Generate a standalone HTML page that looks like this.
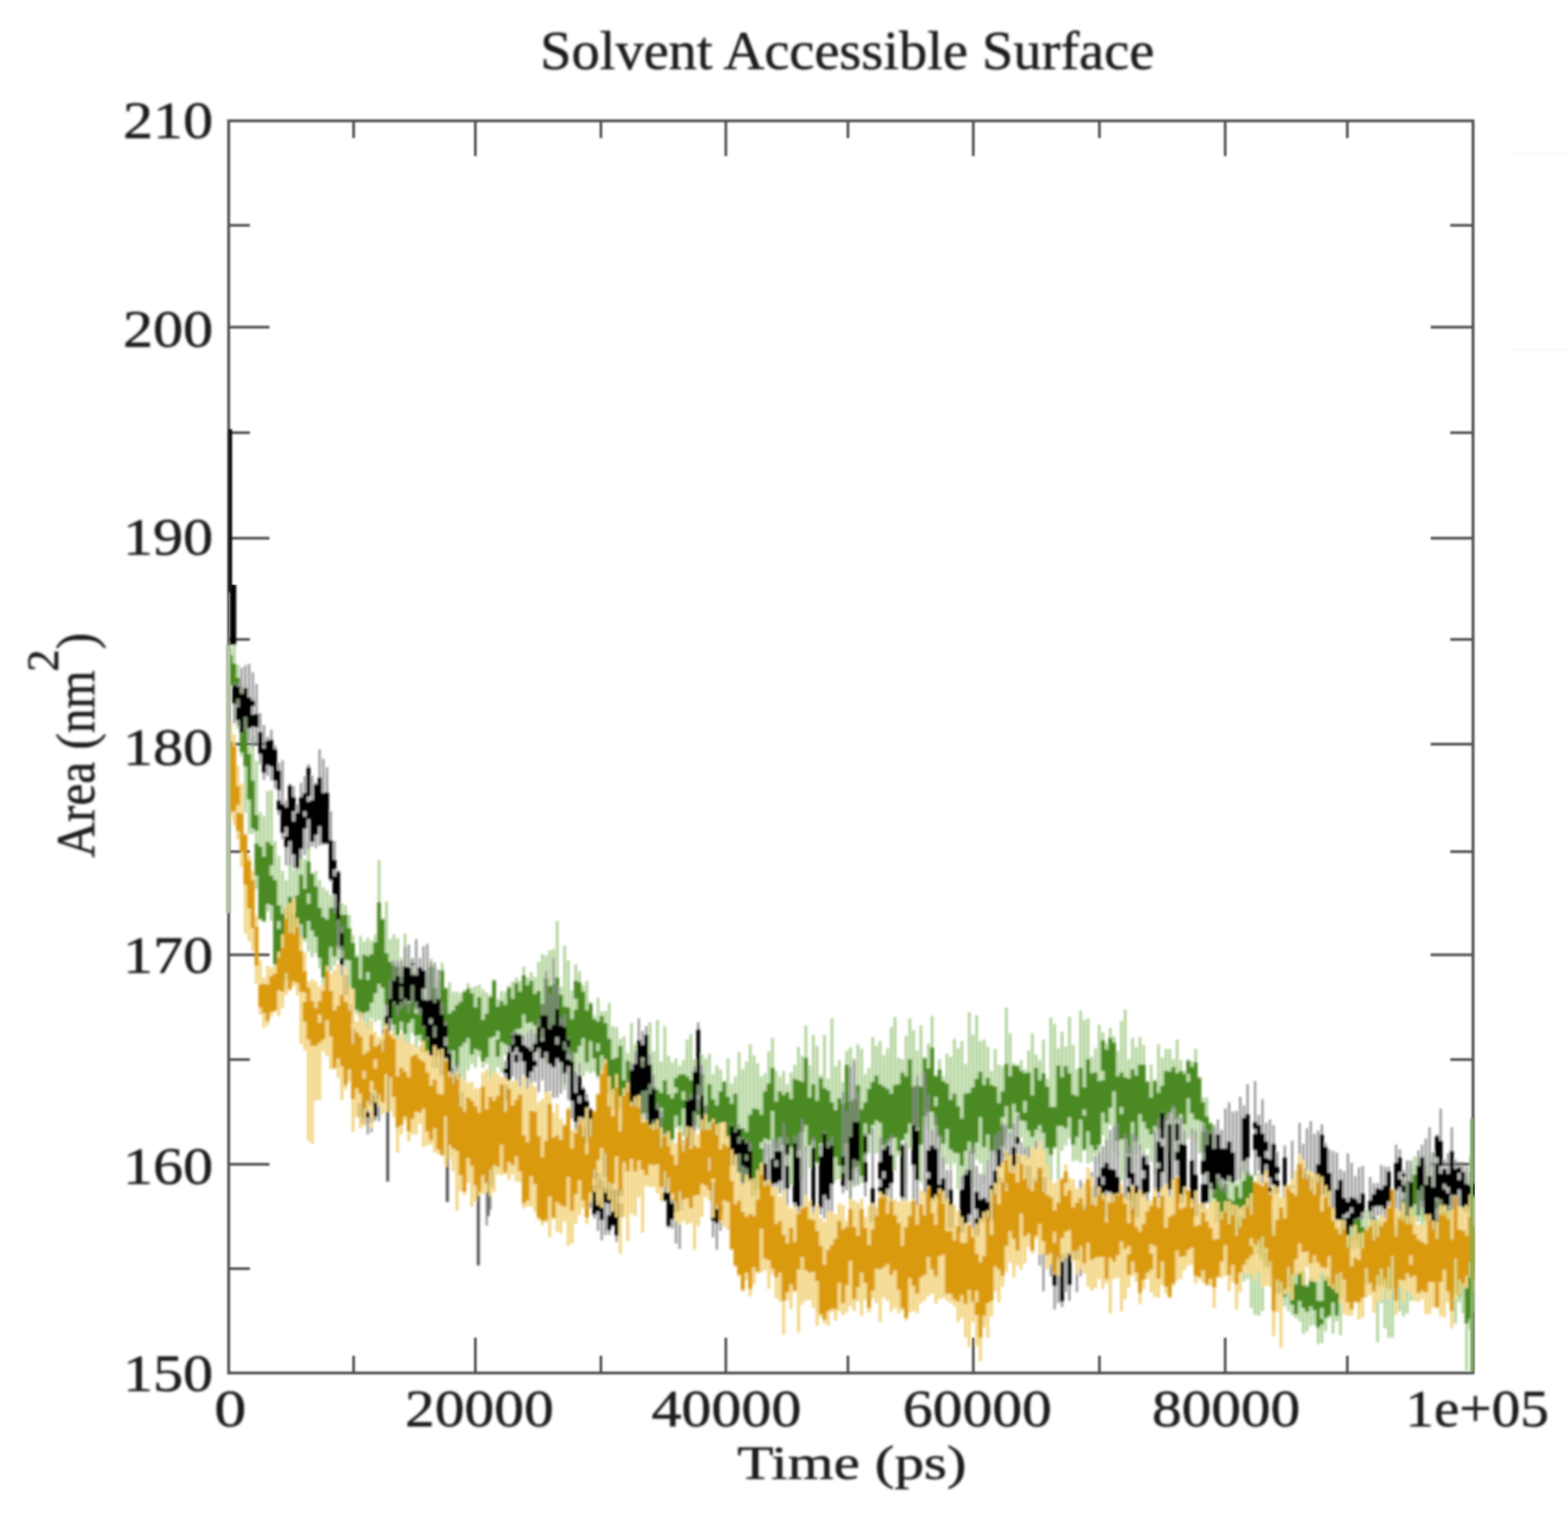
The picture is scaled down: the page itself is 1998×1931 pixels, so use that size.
<!DOCTYPE html>
<html><head><meta charset="utf-8"><style>
html,body{margin:0;padding:0;background:#fff;}
svg{display:block;}
text{font-family:"Liberation Serif","Times New Roman",serif;fill:#1a1a1a;stroke:#1a1a1a;stroke-width:0.6px;}
</style></head><body>
<svg width="1998" height="1931" viewBox="0 0 1998 1931">
<rect width="1998" height="1931" fill="#fff"/>
<defs><filter id="bd" x="0" y="0" width="1" height="1"><feGaussianBlur stdDeviation="1.8"/></filter><filter id="bt" x="-5%" y="-5%" width="110%" height="110%"><feGaussianBlur stdDeviation="1.6"/></filter><filter id="bf" x="-2%" y="-2%" width="104%" height="104%"><feGaussianBlur stdDeviation="1.0"/></filter></defs>
<g id="frame" filter="url(#bf)"><rect x="291.4" y="154.0" width="1585.6" height="1596.0" fill="none" stroke="#505050" stroke-width="3.6"/><line x1="291.4" y1="287.2" x2="318.4" y2="287.2" stroke="#505050" stroke-width="3.4"/><line x1="1877.0" y1="287.2" x2="1848.0" y2="287.2" stroke="#505050" stroke-width="3.4"/><line x1="291.4" y1="417.0" x2="343.4" y2="417.0" stroke="#505050" stroke-width="3.4"/><line x1="1877.0" y1="417.0" x2="1823.0" y2="417.0" stroke="#505050" stroke-width="3.4"/><line x1="291.4" y1="551.5" x2="318.4" y2="551.5" stroke="#505050" stroke-width="3.4"/><line x1="1877.0" y1="551.5" x2="1848.0" y2="551.5" stroke="#505050" stroke-width="3.4"/><line x1="291.4" y1="686.0" x2="343.4" y2="686.0" stroke="#505050" stroke-width="3.4"/><line x1="1877.0" y1="686.0" x2="1823.0" y2="686.0" stroke="#505050" stroke-width="3.4"/><line x1="291.4" y1="815.0" x2="318.4" y2="815.0" stroke="#505050" stroke-width="3.4"/><line x1="1877.0" y1="815.0" x2="1848.0" y2="815.0" stroke="#505050" stroke-width="3.4"/><line x1="291.4" y1="948.5" x2="343.4" y2="948.5" stroke="#505050" stroke-width="3.4"/><line x1="1877.0" y1="948.5" x2="1823.0" y2="948.5" stroke="#505050" stroke-width="3.4"/><line x1="291.4" y1="1085.5" x2="318.4" y2="1085.5" stroke="#505050" stroke-width="3.4"/><line x1="1877.0" y1="1085.5" x2="1848.0" y2="1085.5" stroke="#505050" stroke-width="3.4"/><line x1="291.4" y1="1217.0" x2="343.4" y2="1217.0" stroke="#505050" stroke-width="3.4"/><line x1="1877.0" y1="1217.0" x2="1823.0" y2="1217.0" stroke="#505050" stroke-width="3.4"/><line x1="291.4" y1="1350.5" x2="318.4" y2="1350.5" stroke="#505050" stroke-width="3.4"/><line x1="1877.0" y1="1350.5" x2="1848.0" y2="1350.5" stroke="#505050" stroke-width="3.4"/><line x1="291.4" y1="1484.0" x2="343.4" y2="1484.0" stroke="#505050" stroke-width="3.4"/><line x1="1877.0" y1="1484.0" x2="1823.0" y2="1484.0" stroke="#505050" stroke-width="3.4"/><line x1="291.4" y1="1617.0" x2="318.4" y2="1617.0" stroke="#505050" stroke-width="3.4"/><line x1="1877.0" y1="1617.0" x2="1848.0" y2="1617.0" stroke="#505050" stroke-width="3.4"/><line x1="450.6" y1="154.0" x2="450.6" y2="176.0" stroke="#505050" stroke-width="3.4"/><line x1="450.6" y1="1750.0" x2="450.6" y2="1728.0" stroke="#505050" stroke-width="3.4"/><line x1="605.7" y1="154.0" x2="605.7" y2="199.0" stroke="#505050" stroke-width="3.4"/><line x1="605.7" y1="1750.0" x2="605.7" y2="1705.0" stroke="#505050" stroke-width="3.4"/><line x1="765.7" y1="154.0" x2="765.7" y2="176.0" stroke="#505050" stroke-width="3.4"/><line x1="765.7" y1="1750.0" x2="765.7" y2="1728.0" stroke="#505050" stroke-width="3.4"/><line x1="924.9" y1="154.0" x2="924.9" y2="199.0" stroke="#505050" stroke-width="3.4"/><line x1="924.9" y1="1750.0" x2="924.9" y2="1705.0" stroke="#505050" stroke-width="3.4"/><line x1="1080.5" y1="154.0" x2="1080.5" y2="176.0" stroke="#505050" stroke-width="3.4"/><line x1="1080.5" y1="1750.0" x2="1080.5" y2="1728.0" stroke="#505050" stroke-width="3.4"/><line x1="1240.2" y1="154.0" x2="1240.2" y2="199.0" stroke="#505050" stroke-width="3.4"/><line x1="1240.2" y1="1750.0" x2="1240.2" y2="1705.0" stroke="#505050" stroke-width="3.4"/><line x1="1400.9" y1="154.0" x2="1400.9" y2="176.0" stroke="#505050" stroke-width="3.4"/><line x1="1400.9" y1="1750.0" x2="1400.9" y2="1728.0" stroke="#505050" stroke-width="3.4"/><line x1="1561.2" y1="154.0" x2="1561.2" y2="199.0" stroke="#505050" stroke-width="3.4"/><line x1="1561.2" y1="1750.0" x2="1561.2" y2="1705.0" stroke="#505050" stroke-width="3.4"/><line x1="1716.8" y1="154.0" x2="1716.8" y2="176.0" stroke="#505050" stroke-width="3.4"/><line x1="1716.8" y1="1750.0" x2="1716.8" y2="1728.0" stroke="#505050" stroke-width="3.4"/></g>
<g id="data" filter="url(#bd)"><path d="M293.76 826V876M298.5 822V900M303.22 847V929M307.95 874V964M312.69 909V1036M317.41 950V1063M322.14 939V1063M326.88 970V1133M331.6 1035V1173M336.33 1040V1176M341.06 1008V1162M345.79 1007V1174M350.52 1072V1232M355.25 1091V1235M359.99 1110V1263M364.71 1122V1259M369.44 1100V1238M374.17 1109V1233M378.9 1098V1208M383.63 1092V1203M388.37 1095V1200M393.09 1074V1213M397.82 1112V1220M402.56 1110V1215M407.28 1122V1234M412.01 1131V1265M416.75 1135V1265M421.48 1141V1237M426.2 1145V1231M430.94 1132V1224M435.66 1151V1225M440.39 1154V1260M445.12 1166V1267M449.86 1192V1286M454.58 1217V1292M459.31 1193V1312M464.04 1200V1303M468.77 1195V1315M473.5 1199V1298M478.24 1191V1302M482.97 1096V1300M487.69 1170V1311M492.42 1149V1321M497.15 1197V1306M501.88 1191V1339M506.62 1196V1327M511.35 1221V1313M516.08 1190V1340M520.81 1234V1331M525.53 1221V1317M530.26 1238V1336M535.0 1243V1327M539.73 1238V1344M544.46 1241V1353M549.18 1222V1333M553.91 1232V1335M558.64 1250V1352M563.38 1227V1344M568.11 1258V1363M572.84 1252V1358M577.57 1264V1375M582.3 1264V1370M587.02 1266V1373M591.75 1262V1378M596.49 1253V1364M601.22 1259V1356M605.94 1257V1361M610.67 1255V1347M615.4 1261V1361M620.13 1265V1356M624.87 1268V1372M629.6 1248V1369M634.33 1273V1360M639.06 1263V1367M643.79 1264V1345M648.51 1256V1350M653.25 1251V1335M657.98 1246V1334M662.7 1250V1352M667.43 1232V1325M672.16 1246V1317M676.89 1239V1347M681.62 1245V1330M686.36 1226V1340M691.09 1216V1336M695.82 1218V1354M700.55 1211V1335M705.28 1210V1332M710.0 1174V1334M714.74 1258V1373M719.47 1205V1389M724.19 1224V1361M728.92 1262V1373M733.65 1229V1382M738.38 1238V1364M743.12 1256V1372M747.85 1250V1366M752.58 1277V1368M757.31 1294V1366M762.04 1272V1375M766.77 1289V1388M771.5 1289V1385M776.23 1278V1410M780.96 1308V1415M785.68 1309V1410M790.41 1324V1425M795.14 1321V1449M799.88 1342V1426M804.61 1304V1448M809.34 1331V1461M814.07 1342V1435M818.8 1335V1441M823.52 1331V1428M828.25 1303V1447M832.99 1340V1463M837.72 1300V1452M842.45 1353V1463M847.18 1308V1451M851.9 1346V1469M856.63 1354V1461M861.37 1349V1438M866.1 1358V1451M870.83 1351V1448M875.56 1325V1441M880.29 1318V1440M885.01 1350V1443M889.75 1332V1439M894.48 1344V1437M899.21 1349V1455M903.94 1343V1445M908.67 1369V1455M913.39 1358V1469M918.12 1363V1455M922.86 1377V1468M927.59 1349V1457M932.32 1381V1468M937.05 1372V1473M941.78 1341V1503M946.5 1363V1528M951.24 1353V1517M955.97 1331V1528M960.7 1345V1529M965.43 1355V1550M970.16 1372V1501M974.88 1368V1474M979.62 1340V1484M984.35 1323V1451M989.08 1365V1507M993.81 1372V1495M998.54 1365V1491M1003.26 1382V1494M1008.0 1367V1510M1012.73 1357V1500M1017.46 1334V1508M1022.19 1346V1505M1026.91 1307V1466M1031.64 1358V1489M1036.38 1319V1469M1041.11 1333V1484M1045.84 1370V1463M1050.57 1319V1466M1055.3 1375V1491M1060.03 1298V1480M1064.76 1359V1505M1069.49 1351V1503M1074.22 1379V1508M1078.95 1339V1501M1083.68 1335V1548M1088.41 1354V1513M1093.14 1331V1494M1097.87 1337V1508M1102.6 1369V1507M1107.33 1361V1469M1112.06 1322V1436M1116.79 1333V1470M1121.52 1327V1468M1126.24 1345V1467M1130.97 1336V1485M1135.7 1309V1453M1140.43 1296V1492M1145.16 1348V1473M1149.89 1350V1455M1154.62 1320V1508M1159.36 1298V1464M1164.09 1313V1492M1168.82 1339V1496M1173.55 1307V1507M1178.28 1347V1434M1183.01 1330V1441M1187.74 1295V1471M1192.47 1370V1513M1197.2 1350V1469M1201.93 1372V1490M1206.66 1343V1484M1211.39 1347V1490M1216.12 1324V1483M1220.85 1336V1516M1225.58 1327V1509M1230.31 1356V1524M1235.04 1290V1506M1239.77 1319V1513M1244.5 1294V1478M1249.22 1327V1483M1253.95 1325V1507M1258.68 1334V1478M1263.41 1365V1487M1268.14 1337V1473M1272.88 1357V1491M1277.61 1359V1463M1282.34 1284V1450M1287.07 1317V1450M1291.8 1355V1483M1296.53 1357V1451M1301.26 1351V1450M1305.99 1363V1484M1310.72 1339V1487M1315.45 1317V1473M1320.18 1344V1484M1324.91 1351V1455M1329.64 1325V1496M1334.37 1375V1518M1339.1 1297V1517M1343.83 1305V1464M1348.56 1336V1503M1353.28 1315V1467M1358.01 1334V1460M1362.74 1296V1451M1367.47 1332V1480M1372.2 1363V1479M1376.93 1288V1482M1381.66 1300V1467M1386.39 1298V1483M1391.12 1347V1481M1395.86 1336V1472M1400.59 1306V1482M1405.32 1316V1447M1410.05 1330V1490M1414.78 1310V1434M1419.51 1321V1467M1424.24 1340V1476M1428.97 1301V1505M1433.7 1287V1494M1438.43 1350V1474M1443.16 1323V1491M1447.89 1335V1471M1452.62 1322V1465M1457.35 1332V1475M1462.08 1377V1464M1466.81 1357V1481M1471.54 1376V1497M1476.26 1331V1500M1480.99 1348V1444M1485.72 1337V1469M1490.45 1337V1470M1495.18 1350V1479M1499.91 1325V1474M1504.64 1351V1483M1509.38 1365V1463M1514.11 1350V1452M1518.84 1353V1448M1523.57 1337V1457M1528.3 1372V1470M1533.03 1399V1485M1537.76 1399V1512M1542.49 1430V1542M1547.22 1433V1548M1551.95 1464V1579M1556.68 1484V1608M1561.41 1488V1577M1566.14 1499V1617M1570.87 1479V1598M1575.6 1507V1604M1580.33 1487V1613M1585.06 1455V1633M1589.79 1479V1630M1594.51 1497V1667M1599.24 1518V1676M1603.97 1495V1677M1608.7 1532V1671M1613.43 1514V1627M1618.16 1514V1634M1622.89 1545V1688M1627.62 1519V1668M1632.36 1527V1650M1637.09 1567V1665M1641.82 1572V1671M1646.55 1581V1676M1651.28 1605V1680M1656.01 1610V1684M1660.74 1603V1700M1665.47 1637V1697M1670.2 1607V1690M1674.93 1628V1689M1679.66 1625V1713M1684.39 1621V1712M1689.12 1620V1697M1693.85 1589V1680M1698.58 1576V1700M1703.31 1576V1684M1708.04 1561V1702M1712.77 1550V1660M1717.49 1553V1637M1722.22 1549V1642M1726.95 1524V1610M1731.68 1539V1659M1736.41 1548V1643M1741.14 1542V1651M1745.88 1541V1631M1750.61 1532V1650M1755.34 1553V1711M1760.07 1556V1661M1764.8 1558V1693M1769.53 1554V1705M1774.26 1561V1705M1778.99 1549V1674M1783.72 1523V1671M1788.45 1508V1678M1793.18 1480V1674M1797.91 1489V1658M1802.64 1474V1623M1807.37 1477V1557M1812.1 1472V1632M1816.83 1485V1612M1821.56 1473V1636M1826.29 1468V1580M1831.02 1509V1619M1835.74 1507V1613M1840.47 1496V1627M1845.2 1532V1625M1849.93 1498V1660M1854.66 1528V1687M1859.39 1527V1660M1864.12 1496V1674M1868.86 1499V1747M1873.59 1474V1695M1878.32 1558V1673" stroke="#aed296" stroke-width="3.4056" fill="none"/><path d="M293.76 835V873M298.5 846V877M303.22 864V900M307.95 906V959M312.69 914V977M317.41 961V1019M322.14 995V1056M326.88 1039V1059M326.88 1075V1116M331.6 1079V1171M336.33 1092V1174M341.06 1073V1152M345.79 1077V1103M345.79 1116V1154M350.52 1122V1229M355.25 1154V1174M355.25 1184V1231M359.99 1165V1254M364.71 1157V1249M369.44 1143V1236M374.17 1163V1229M378.9 1141V1206M383.63 1115V1178M388.37 1133V1196M393.09 1098V1139M393.09 1152V1174M397.82 1114V1186M402.56 1130V1194M407.28 1157V1221M412.01 1169V1246M416.75 1172V1241M421.48 1157V1207M426.2 1157V1219M430.94 1166V1205M435.66 1166V1211M440.39 1166V1223M445.12 1183V1224M449.86 1202V1260M454.58 1220V1287M459.31 1248V1297M464.04 1217V1291M468.77 1219V1239M468.77 1249V1289M473.5 1216V1278M478.24 1201V1266M482.97 1150V1254M487.69 1172V1259M492.42 1215V1281M497.15 1226V1299M501.88 1231V1306M506.62 1232V1319M511.35 1245V1302M516.08 1238V1318M520.81 1243V1266M520.81 1279V1304M525.53 1241V1299M530.26 1250V1284M530.26 1292V1320M535.0 1270V1319M539.73 1291V1342M544.46 1293V1341M549.18 1232V1299M553.91 1259V1332M558.64 1272V1308M558.64 1315V1341M563.38 1237V1306M568.11 1260V1317M572.84 1292V1351M577.57 1288V1339M582.3 1281V1360M587.02 1277V1334M591.75 1264V1329M596.49 1260V1323M601.22 1266V1344M605.94 1284V1337M610.67 1271V1339M615.4 1300V1353M620.13 1292V1348M624.87 1271V1323M629.6 1250V1321M634.33 1283V1314M634.33 1325V1347M639.06 1276V1328M643.79 1281V1331M648.51 1259V1333M653.25 1273V1333M657.98 1253V1312M662.7 1264V1311M667.43 1243V1293M672.16 1256V1304M676.89 1250V1303M681.62 1267V1307M686.36 1263V1316M691.09 1280V1323M695.82 1247V1308M700.55 1257V1328M705.28 1255V1315M710.0 1246V1306M714.74 1268V1346M719.47 1283V1369M724.19 1284V1344M728.92 1299V1357M733.65 1250V1273M733.65 1287V1342M738.38 1252V1333M743.12 1264V1323M747.85 1288V1354M752.58 1279V1327M757.31 1299V1349M762.04 1302V1330M762.04 1340V1371M766.77 1295V1345M771.5 1304V1358M776.23 1324V1394M780.96 1350V1413M785.68 1348V1408M790.41 1333V1413M795.14 1377V1445M799.88 1352V1415M804.61 1371V1445M809.34 1372V1446M814.07 1379V1433M818.8 1352V1419M823.52 1365V1419M828.25 1382V1437M832.99 1385V1443M837.72 1389V1449M842.45 1393V1412M842.45 1425V1454M847.18 1377V1445M851.9 1395V1461M856.63 1400V1452M861.37 1374V1386M861.37 1393V1422M866.1 1370V1435M870.83 1369V1391M870.83 1402V1413M875.56 1372V1414M880.29 1377V1430M885.01 1383V1403M885.01 1414V1435M889.75 1372V1395M889.75 1402V1421M894.48 1369V1413M899.21 1410V1449M903.94 1382V1430M908.67 1401V1450M913.39 1409V1458M918.12 1391V1431M922.86 1379V1431M927.59 1398V1451M932.32 1407V1466M937.05 1394V1453M941.78 1440V1494M946.5 1438V1507M951.24 1443V1500M955.97 1421V1491M960.7 1413V1525M965.43 1414V1516M970.16 1421V1456M970.16 1464V1496M974.88 1391V1451M979.62 1381V1453M984.35 1361V1416M989.08 1404V1465M993.81 1391V1450M998.54 1396V1459M1003.26 1392V1473M1008.0 1401V1462M1012.73 1375V1462M1017.46 1377V1466M1022.19 1379V1443M1026.91 1348V1434M1031.64 1399V1460M1036.38 1382V1453M1041.11 1403V1481M1045.84 1374V1457M1050.57 1387V1453M1055.3 1390V1467M1060.03 1405V1473M1064.76 1415V1475M1069.49 1400V1486M1074.22 1407V1503M1078.95 1357V1457M1083.68 1404V1490M1088.41 1401V1489M1093.14 1383V1486M1097.87 1414V1499M1102.6 1405V1432M1102.6 1447V1472M1107.33 1388V1446M1112.06 1379V1434M1116.79 1371V1428M1121.52 1382V1431M1126.24 1385V1460M1130.97 1388V1457M1135.7 1394V1451M1140.43 1383V1450M1145.16 1382V1467M1149.89 1367V1453M1154.62 1372V1445M1159.36 1350V1432M1164.09 1385V1451M1168.82 1383V1437M1173.55 1385V1459M1178.28 1349V1423M1183.01 1362V1417M1187.74 1335V1417M1192.47 1372V1398M1192.47 1410V1434M1197.2 1363V1449M1201.93 1378V1458M1206.66 1381V1439M1211.39 1402V1465M1216.12 1394V1469M1220.85 1410V1470M1225.58 1426V1486M1230.31 1394V1467M1235.04 1393V1455M1239.77 1386V1470M1244.5 1375V1456M1249.22 1366V1424M1253.95 1383V1462M1258.68 1374V1446M1263.41 1383V1467M1268.14 1385V1467M1272.88 1406V1471M1277.61 1391V1424M1277.61 1435V1461M1282.34 1356V1410M1287.07 1372V1439M1291.8 1358V1407M1296.53 1359V1418M1301.26 1365V1428M1305.99 1368V1403M1305.99 1418V1429M1310.72 1367V1441M1315.45 1396V1449M1320.18 1361V1440M1324.91 1377V1434M1329.64 1368V1444M1334.37 1385V1463M1339.1 1411V1472M1343.83 1411V1462M1348.56 1358V1435M1353.28 1373V1435M1358.01 1359V1438M1362.74 1368V1424M1367.47 1395V1459M1372.2 1397V1449M1376.93 1361V1427M1381.66 1386V1414M1381.66 1422V1465M1386.39 1350V1442M1391.12 1368V1460M1395.86 1367V1466M1400.59 1378V1459M1405.32 1326V1365M1405.32 1377V1418M1410.05 1338V1431M1414.78 1323V1412M1419.51 1329V1391M1424.24 1372V1454M1428.97 1367V1411M1428.97 1420V1452M1433.7 1373V1451M1438.43 1375V1471M1443.16 1363V1430M1447.89 1371V1455M1452.62 1357V1420M1457.35 1357V1430M1462.08 1379V1439M1466.81 1399V1446M1471.54 1378V1435M1476.26 1393V1439M1480.99 1384V1438M1485.72 1365V1428M1490.45 1366V1418M1495.18 1360V1412M1499.91 1368V1427M1504.64 1365V1420M1509.38 1369V1433M1514.11 1352V1369M1514.11 1379V1400M1518.84 1360V1419M1523.57 1354V1427M1528.3 1374V1428M1533.03 1405V1431M1533.03 1442V1469M1537.76 1423V1482M1542.49 1432V1482M1547.22 1480V1527M1551.95 1502V1558M1556.68 1514V1576M1561.41 1509V1575M1566.14 1528V1580M1570.87 1531V1580M1575.6 1512V1587M1580.33 1527V1540M1580.33 1551V1588M1585.06 1505V1588M1589.79 1494V1577M1594.51 1499V1579M1599.24 1527V1587M1603.97 1516V1560M1603.97 1574V1598M1608.7 1534V1605M1613.43 1558V1588M1613.43 1596V1615M1618.16 1558V1615M1622.89 1568V1599M1622.89 1614V1626M1627.62 1582V1649M1632.36 1580V1648M1637.09 1594V1653M1641.82 1576V1641M1646.55 1609V1663M1651.28 1637V1675M1656.01 1621V1658M1660.74 1620V1667M1665.47 1640V1672M1670.2 1629V1665M1674.93 1634V1670M1679.66 1658V1692M1684.39 1658V1667M1684.39 1681V1688M1689.12 1626V1680M1693.85 1628V1677M1698.58 1598V1660M1703.31 1611V1677M1708.04 1603V1655M1712.77 1552V1595M1717.49 1558V1616M1722.22 1551V1564M1722.22 1576V1592M1726.95 1533V1580M1731.68 1542V1590M1736.41 1564V1609M1741.14 1578V1638M1745.88 1570V1621M1750.61 1551V1625M1755.34 1558V1639M1760.07 1583V1637M1764.8 1588V1640M1769.53 1592V1644M1774.26 1567V1643M1778.99 1564V1642M1783.72 1550V1607M1788.45 1528V1584M1793.18 1505V1564M1797.91 1506V1560M1802.64 1497V1535M1807.37 1503V1549M1812.1 1483V1530M1816.83 1510V1556M1821.56 1512V1563M1826.29 1517V1568M1831.02 1531V1540M1831.02 1554V1584M1835.74 1513V1587M1840.47 1544V1612M1845.2 1539V1590M1849.93 1577V1653M1854.66 1579V1648M1859.39 1583V1652M1864.12 1568V1633M1868.86 1595V1687M1873.59 1600V1681M1878.32 1562V1644" stroke="#4b8a22" stroke-width="4.930000000000001" fill="none"/><path d="M297 745V822" stroke="#000" stroke-width="8"/><path d="M494 1300V1506M570 1380V1532M609.5 1440V1613M622 1470V1550" stroke="#4a4a4a" stroke-width="3.6"/><path d="M298.5 871V922M303.22 870V925M307.95 851V936M312.69 848V931M317.41 846V946M322.14 857V952M326.88 872V949M331.6 909V974M336.33 924V994M341.06 939V989M345.79 930V995M350.52 950V1005M355.25 972V1039M359.99 969V1070M364.71 1020V1103M369.44 999V1103M374.17 1002V1107M378.9 1025V1109M383.63 998V1094M388.37 989V1090M393.09 974V1082M397.82 989V1079M402.56 997V1081M407.28 955V1078M412.01 967V1077M416.75 978V1077M421.48 1034V1124M426.2 1072V1163M430.94 1109V1209M435.66 1181V1243M440.39 1241V1273M445.12 1261V1310M449.86 1297V1348M454.58 1316V1373M459.31 1347V1431M464.04 1357V1435M468.77 1357V1446M473.5 1366V1443M478.24 1377V1428M482.97 1343V1429M487.69 1312V1414M492.42 1280V1355M497.15 1250V1314M501.88 1224V1279M506.62 1225V1294M511.35 1225V1286M516.08 1207V1281M520.81 1204V1291M525.53 1222V1277M530.26 1197V1287M535.0 1221V1295M539.73 1206V1310M544.46 1203V1325M549.18 1226V1354M553.91 1227V1366M558.64 1236V1357M563.38 1278V1397M568.11 1302V1451M572.84 1338V1420M577.57 1361V1482M582.3 1356V1433M587.02 1374V1435M591.75 1387V1448M596.49 1406V1459M601.22 1410V1497M605.94 1424V1505M610.67 1416V1523M615.4 1430V1521M620.13 1466V1562M624.87 1451V1542M629.6 1437V1516M634.33 1404V1492M639.06 1392V1457M643.79 1352V1426M648.51 1333V1408M653.25 1315V1372M657.98 1314V1391M662.7 1317V1385M667.43 1320V1370M672.16 1316V1395M676.89 1312V1390M681.62 1317V1379M686.36 1299V1392M691.09 1281V1377M695.82 1238V1395M700.55 1267V1391M705.28 1221V1399M710.0 1256V1399M714.74 1297V1394M719.47 1293V1382M724.19 1323V1402M728.92 1340V1426M733.65 1366V1460M738.38 1355V1479M743.12 1385V1494M747.85 1394V1512M752.58 1412V1540M757.31 1449V1553M762.04 1472V1569M766.77 1479V1581M771.5 1451V1574M776.23 1485V1574M780.96 1483V1564M785.68 1482V1583M790.41 1484V1554M795.14 1432V1526M799.88 1376V1490M804.61 1355V1460M809.34 1340V1451M814.07 1298V1414M818.8 1314V1418M823.52 1308V1437M828.25 1344V1454M832.99 1370V1469M837.72 1405V1483M842.45 1416V1502M847.18 1442V1532M851.9 1453V1565M856.63 1483V1566M861.37 1485V1585M866.1 1474V1592M870.83 1454V1551M875.56 1401V1513M880.29 1394V1476M885.01 1359V1449M889.75 1303V1415M894.48 1357V1453M899.21 1408V1500M903.94 1449V1530M908.67 1485V1577M913.39 1499V1593M918.12 1493V1569M922.86 1483V1543M927.59 1469V1567M932.32 1432V1521M937.05 1440V1503M941.78 1433V1548M946.5 1450V1518M951.24 1452V1503M955.97 1456V1528M974.88 1457V1538M979.62 1458V1551M984.35 1451V1515M989.08 1454V1519M993.81 1449V1521M998.54 1431V1539M1003.26 1449V1546M1012.73 1448V1545M1017.46 1445V1548M1022.19 1426V1553M1026.91 1461V1553M1036.38 1449V1556M1045.84 1460V1548M1050.57 1442V1553M1055.3 1455V1548M1060.03 1449V1547M1074.22 1392V1521M1078.95 1416V1517M1083.68 1360V1529M1088.41 1350V1510M1093.14 1393V1511M1102.6 1444V1525M1112.06 1437V1580M1121.52 1450V1552M1126.24 1461V1544M1130.97 1452V1554M1135.7 1446V1534M1149.89 1457V1531M1154.62 1456V1556M1164.09 1385V1559M1168.82 1371V1568M1178.28 1366V1575M1183.01 1395V1566M1187.74 1440V1558M1192.47 1422V1555M1197.2 1446V1559M1201.93 1475V1552M1206.66 1491V1567M1211.39 1491V1568M1225.58 1499V1581M1230.31 1491V1570M1235.04 1467V1567M1239.77 1460V1579M1244.5 1486V1584M1249.22 1496V1574M1253.95 1497V1570M1258.68 1478V1574M1263.41 1465V1560M1268.14 1446V1551M1272.88 1442V1522M1277.61 1431V1508M1282.34 1433V1530M1287.07 1444V1532M1291.8 1432V1524M1296.53 1422V1524M1301.26 1456V1519M1305.99 1463V1518M1310.72 1461V1525M1320.18 1454V1573M1324.91 1471V1613M1329.64 1485V1646M1339.1 1541V1627M1343.83 1569V1669M1348.56 1553V1661M1353.28 1566V1666M1358.01 1574V1647M1362.74 1563V1658M1372.2 1557V1647M1376.93 1504V1627M1381.66 1524V1598M1386.39 1518V1605M1391.12 1494V1576M1395.86 1473V1580M1400.59 1469V1564M1405.32 1461V1560M1410.05 1453V1572M1414.78 1440V1561M1419.51 1435V1559M1424.24 1432V1555M1433.7 1445V1574M1438.43 1461V1539M1443.16 1445V1553M1447.89 1449V1558M1452.62 1458V1542M1457.35 1470V1542M1462.08 1472V1539M1471.54 1441V1541M1476.26 1425V1527M1480.99 1416V1529M1485.72 1422V1522M1490.45 1418V1525M1495.18 1409V1516M1499.91 1423V1521M1504.64 1425V1541M1509.38 1441V1536M1518.84 1438V1538M1523.57 1441V1555M1533.03 1433V1550M1537.76 1439V1534M1542.49 1442V1516M1547.22 1436V1522M1551.95 1427V1510M1556.68 1440V1518M1561.41 1413V1521M1566.14 1405V1506M1570.87 1417V1509M1575.6 1416V1505M1580.33 1398V1503M1585.06 1409V1494M1589.79 1382V1499M1599.24 1378V1499M1603.97 1421V1492M1608.7 1401V1508M1613.43 1431V1509M1618.16 1427V1532M1622.89 1434V1517M1627.62 1468V1526M1637.09 1460V1534M1646.55 1454V1545M1656.01 1431V1533M1660.74 1458V1551M1665.47 1438V1548M1670.2 1429V1553M1674.93 1445V1537M1679.66 1441V1569M1684.39 1433V1542M1689.12 1457V1548M1693.85 1465V1561M1698.58 1467V1585M1703.31 1469V1562M1708.04 1490V1563M1712.77 1493V1577M1717.49 1470V1578M1722.22 1482V1564M1726.95 1499V1556M1731.68 1488V1554M1736.41 1486V1554M1745.88 1500V1554M1750.61 1508V1558M1755.34 1508V1550M1760.07 1485V1556M1764.8 1487V1553M1769.53 1487V1542M1778.99 1459V1546M1783.72 1465V1544M1788.45 1491V1542M1793.18 1479V1550M1797.91 1479V1541M1807.37 1466V1546M1812.1 1459V1539M1816.83 1451V1554M1821.56 1437V1562M1826.29 1469V1596M1831.02 1446V1566M1835.74 1413V1561M1840.47 1478V1558M1845.2 1470V1549M1849.93 1437V1542M1854.66 1478V1542M1859.39 1481V1540M1864.12 1481V1544M1868.86 1487V1555M1873.59 1494V1546M1878.32 1487V1540" stroke="#8a8a8a" stroke-width="2.6015000000000006" fill="none"/><path d="M298.5 873V897M303.22 875V891M303.22 901V918M307.95 884V934M312.69 877V914M317.41 889V928M322.14 893V900M322.14 911V926M326.88 910V927M331.6 933V961M336.33 954V985M341.06 944V975M345.79 943V977M350.52 955V995M355.25 982V1007M355.25 1020V1033M359.99 1025V1062M364.71 1029V1054M364.71 1066V1080M369.44 1001V1072M374.17 1016V1034M374.17 1047V1089M378.9 1036V1106M383.63 1016V1082M388.37 1011V1034M388.37 1041V1056M393.09 978V1015M393.09 1022V1044M397.82 1020V1073M402.56 1000V1064M407.28 991V1053M412.01 1011V1075M416.75 1010V1075M421.48 1071V1121M426.2 1096V1108M426.2 1117V1140M430.94 1111V1172M435.66 1189V1206M435.66 1221V1230M440.39 1243V1268M445.12 1280V1304M449.86 1311V1341M454.58 1345V1369M459.31 1381V1393M459.31 1406V1424M464.04 1386V1432M468.77 1400V1405M468.77 1418V1424M473.5 1392V1409M473.5 1424V1431M478.24 1396V1423M482.97 1382V1401M487.69 1326V1353M492.42 1295V1308M492.42 1322V1326M497.15 1273V1298M501.88 1250V1277M506.62 1244V1281M511.35 1253V1258M511.35 1273V1277M516.08 1232V1273M520.81 1233V1276M525.53 1228V1230M525.53 1243V1256M530.26 1243V1277M535.0 1233V1285M539.73 1237V1260M539.73 1274V1308M544.46 1275V1322M549.18 1274V1298M549.18 1305V1345M553.91 1278V1308M553.91 1322V1361M558.64 1274V1346M563.38 1293V1371M568.11 1307V1322M568.11 1333V1348M572.84 1343V1398M577.57 1372V1397M582.3 1368V1387M582.3 1397V1406M587.02 1391V1426M591.75 1419V1430M591.75 1439V1444M596.49 1431V1437M596.49 1446V1455M601.22 1419V1450M605.94 1434V1445M605.94 1458V1470M610.67 1427V1478M615.4 1441V1460M615.4 1466V1493M620.13 1469V1509M624.87 1461V1513M629.6 1439V1450M629.6 1462V1471M634.33 1406V1448M639.06 1400V1435M643.79 1362V1368M643.79 1383V1403M648.51 1341V1377M653.25 1321V1323M653.25 1331V1341M657.98 1318V1335M657.98 1344V1354M662.7 1319V1342M667.43 1332V1353M672.16 1335V1374M676.89 1339V1366M681.62 1330V1341M681.62 1352V1359M686.36 1309V1336M691.09 1294V1311M691.09 1327V1349M695.82 1294V1341M700.55 1311V1356M705.28 1306V1360M710.0 1286V1322M710.0 1331V1349M714.74 1307V1354M719.47 1309V1328M719.47 1338V1367M724.19 1325V1335M724.19 1350V1359M728.92 1353V1403M733.65 1393V1430M738.38 1371V1397M738.38 1406V1446M743.12 1388V1424M743.12 1437V1458M747.85 1403V1457M752.58 1414V1478M757.31 1484V1502M757.31 1511V1548M762.04 1495V1516M762.04 1530V1544M766.77 1504V1555M771.5 1453V1501M771.5 1514V1533M776.23 1495V1534M776.23 1549V1568M780.96 1516V1562M785.68 1516V1575M790.41 1509V1524M790.41 1534V1552M795.14 1434V1477M799.88 1385V1452M804.61 1364V1403M804.61 1419V1435M809.34 1356V1439M814.07 1326V1397M818.8 1332V1348M818.8 1360V1391M823.52 1319V1390M828.25 1357V1382M828.25 1394V1433M832.99 1388V1428M837.72 1414V1470M842.45 1450V1497M847.18 1490V1513M847.18 1520V1530M851.9 1496V1563M856.63 1516V1521M856.63 1534V1554M861.37 1487V1545M866.1 1482V1543M870.83 1460V1478M870.83 1491V1521M875.56 1403V1481M880.29 1401V1461M885.01 1366V1417M889.75 1312V1383M894.48 1396V1445M899.21 1450V1470M899.21 1480V1486M903.94 1468V1502M908.67 1507V1556M913.39 1512V1525M913.39 1536V1559M918.12 1504V1522M918.12 1537V1547M922.86 1487V1530M927.59 1473V1501M932.32 1435V1486M937.05 1443V1484M941.78 1439V1449M941.78 1457V1471M946.5 1452V1486M951.24 1457V1472M951.24 1479V1489M955.97 1467V1507M974.88 1483V1523M984.35 1477V1509M989.08 1467V1479M989.08 1487V1508M993.81 1467V1505M1003.26 1458V1471M1003.26 1486V1515M1012.73 1457V1533M1017.46 1475V1538M1036.38 1463V1538M1045.84 1474V1539M1050.57 1445V1523M1055.3 1463V1529M1060.03 1460V1509M1074.22 1474V1486M1074.22 1495V1512M1083.68 1449V1505M1088.41 1430V1478M1093.14 1430V1480M1102.6 1448V1469M1102.6 1481V1507M1112.06 1514V1558M1121.52 1481V1503M1121.52 1513V1520M1126.24 1465V1493M1126.24 1502V1534M1130.97 1460V1515M1135.7 1472V1508M1149.89 1460V1526M1164.09 1434V1485M1168.82 1441V1504M1183.01 1466V1494M1183.01 1502V1561M1187.74 1460V1531M1192.47 1464V1528M1197.2 1510V1525M1197.2 1537V1551M1201.93 1502V1532M1211.39 1516V1566M1225.58 1516V1571M1230.31 1497V1559M1235.04 1491V1548M1244.5 1519V1541M1244.5 1553V1575M1249.22 1529V1558M1253.95 1527V1554M1258.68 1532V1561M1263.41 1511V1556M1268.14 1492V1524M1268.14 1534V1549M1272.88 1465V1488M1272.88 1501V1509M1282.34 1468V1476M1282.34 1491V1516M1291.8 1462V1493M1296.53 1449V1458M1296.53 1473V1483M1310.72 1486V1516M1320.18 1502V1549M1324.91 1488V1530M1329.64 1501V1546M1343.83 1593V1639M1348.56 1563V1606M1353.28 1598V1659M1362.74 1596V1638M1372.2 1560V1606M1376.93 1539V1589M1381.66 1537V1586M1386.39 1520V1555M1391.12 1513V1542M1400.59 1500V1553M1405.32 1488V1500M1405.32 1510V1536M1410.05 1482V1518M1410.05 1532V1552M1414.78 1490V1519M1414.78 1534V1557M1419.51 1491V1555M1424.24 1500V1530M1424.24 1539V1550M1438.43 1474V1502M1438.43 1512V1530M1443.16 1495V1510M1443.16 1516V1548M1447.89 1511V1552M1457.35 1474V1492M1457.35 1502V1526M1462.08 1484V1520M1476.26 1455V1482M1476.26 1489V1519M1480.99 1418V1451M1480.99 1461V1494M1490.45 1433V1516M1499.91 1432V1454M1499.91 1468V1479M1504.64 1458V1533M1509.38 1459V1523M1518.84 1479V1534M1523.57 1497V1550M1533.03 1479V1497M1533.03 1509V1541M1537.76 1459V1494M1537.76 1509V1532M1542.49 1445V1508M1547.22 1464V1516M1551.95 1446V1497M1556.68 1464V1502M1561.41 1464V1505M1566.14 1455V1499M1570.87 1469V1507M1585.06 1425V1480M1589.79 1420V1476M1599.24 1430V1439M1599.24 1445V1466M1603.97 1434V1475M1608.7 1445V1497M1613.43 1455V1467M1613.43 1476V1484M1618.16 1478V1501M1618.16 1514V1528M1622.89 1458V1510M1627.62 1487V1496M1627.62 1504V1522M1637.09 1475V1526M1646.55 1511V1514M1646.55 1529V1543M1656.01 1482V1523M1660.74 1489V1544M1665.47 1497V1519M1665.47 1533V1546M1670.2 1500V1524M1670.2 1537V1546M1679.66 1484V1561M1684.39 1446V1524M1689.12 1462V1522M1693.85 1495V1555M1703.31 1516V1554M1708.04 1504V1555M1712.77 1527V1548M1712.77 1558V1573M1717.49 1532V1545M1717.49 1552V1576M1722.22 1526V1539M1722.22 1546V1562M1726.95 1528V1554M1731.68 1533V1552M1736.41 1521V1545M1745.88 1530V1544M1750.61 1522V1538M1755.34 1515V1537M1760.07 1516V1537M1764.8 1511V1541M1769.53 1493V1531M1778.99 1482V1517M1783.72 1475V1494M1783.72 1503V1513M1788.45 1496V1500M1788.45 1511V1520M1797.91 1507V1538M1807.37 1486V1517M1812.1 1475V1512M1816.83 1510V1550M1821.56 1499V1560M1826.29 1513V1591M1831.02 1448V1475M1831.02 1484V1527M1835.74 1454V1486M1835.74 1496V1529M1840.47 1490V1509M1840.47 1516V1539M1845.2 1496V1513M1845.2 1521V1537M1849.93 1467V1523M1854.66 1490V1540M1859.39 1488V1495M1859.39 1504V1516M1864.12 1494V1538M1868.86 1509V1546M1873.59 1511V1539M1878.32 1508V1531" stroke="#060606" stroke-width="4.930000000000001" fill="none"/><path d="M293.76 920V1043M298.5 936V1052M303.22 976V1070M307.95 999V1105M312.69 1062V1190M317.41 1090V1200M322.14 1110V1212M326.88 1167V1254M331.6 1223V1293M336.33 1246V1310M341.06 1231V1307M345.79 1233V1296M350.52 1231V1290M355.25 1213V1295M359.99 1191V1285M364.71 1155V1268M369.44 1151V1263M374.17 1146V1257M378.9 1170V1269M383.63 1194V1331M388.37 1214V1339M393.09 1251V1454M397.82 1248V1458M402.56 1251V1403M407.28 1258V1402M412.01 1255V1340M416.75 1231V1346M421.48 1241V1363M426.2 1236V1363M430.94 1229V1374M435.66 1243V1402M440.39 1232V1389M445.12 1256V1379M449.86 1261V1443M454.58 1302V1424M459.31 1290V1438M464.04 1303V1435M468.77 1311V1415M473.5 1300V1438M478.24 1315V1405M482.97 1322V1410M487.69 1317V1420M492.42 1305V1417M497.15 1317V1416M501.88 1314V1424M506.62 1324V1469M511.35 1318V1446M516.08 1327V1428M520.81 1330V1455M525.53 1331V1446M530.26 1337V1446M535.0 1333V1433M539.73 1327V1462M544.46 1339V1460M549.18 1346V1459M553.91 1333V1469M558.64 1338V1471M563.38 1337V1474M568.11 1350V1487M572.84 1366V1477M577.57 1369V1493M582.3 1366V1543M587.02 1373V1518M591.75 1375V1523M596.49 1380V1508M601.22 1379V1538M605.94 1387V1531M610.67 1387V1524M615.4 1367V1522M620.13 1363V1520M624.87 1372V1525M629.6 1366V1519M634.33 1368V1497M639.06 1373V1498M643.79 1374V1497M648.51 1377V1504M653.25 1378V1497M657.98 1377V1506M662.7 1385V1507M667.43 1372V1540M672.16 1388V1538M676.89 1380V1538M681.62 1385V1545M686.36 1405V1555M691.09 1401V1562M695.82 1392V1558M700.55 1393V1577M705.28 1418V1554M710.0 1407V1570M714.74 1426V1572M719.47 1432V1557M724.19 1411V1588M728.92 1440V1585M733.65 1439V1560M738.38 1424V1549M743.12 1427V1540M747.85 1412V1560M752.58 1426V1532M757.31 1415V1519M762.04 1393V1536M766.77 1364V1539M771.5 1350V1520M776.23 1372V1529M780.96 1388V1544M785.68 1369V1551M790.41 1397V1598M795.14 1387V1551M799.88 1380V1582M804.61 1405V1547M809.34 1398V1550M814.07 1396V1526M818.8 1424V1571M823.52 1428V1512M828.25 1435V1513M832.99 1432V1513M837.72 1427V1521M842.45 1437V1531M847.18 1446V1513M851.9 1442V1520M856.63 1455V1529M861.37 1458V1556M866.1 1439V1561M870.83 1456V1556M875.56 1436V1561M880.29 1437V1559M885.01 1441V1593M889.75 1446V1563M894.48 1427V1551M899.21 1420V1526M903.94 1438V1530M908.67 1426V1552M913.39 1433V1541M918.12 1432V1558M922.86 1430V1564M927.59 1448V1566M932.32 1465V1594M937.05 1472V1615M941.78 1495V1627M946.5 1510V1646M951.24 1497V1632M955.97 1503V1652M960.7 1502V1637M965.43 1491V1623M970.16 1482V1622M974.88 1505V1619M979.62 1504V1643M984.35 1513V1624M989.08 1513V1655M993.81 1525V1659M998.54 1517V1701M1003.26 1535V1657M1008.0 1541V1668M1012.73 1538V1647M1017.46 1545V1698M1022.19 1538V1663M1026.91 1523V1658M1031.64 1531V1657M1036.38 1546V1667M1041.11 1537V1690M1045.84 1552V1679M1050.57 1557V1687M1055.3 1544V1690M1060.03 1544V1672M1064.76 1548V1683M1069.49 1534V1671M1074.22 1536V1676M1078.95 1556V1673M1083.68 1528V1665M1088.41 1530V1671M1093.14 1533V1659M1097.87 1528V1677M1102.6 1551V1657M1107.33 1537V1673M1112.06 1534V1655M1116.79 1538V1661M1121.52 1519V1685M1126.24 1523V1654M1130.97 1524V1658M1135.7 1529V1672M1140.43 1528V1667M1145.16 1532V1674M1149.89 1532V1671M1154.62 1529V1683M1159.36 1532V1673M1164.09 1528V1671M1168.82 1536V1674M1173.55 1517V1661M1178.28 1520V1658M1183.01 1512V1652M1187.74 1527V1649M1192.47 1523V1662M1197.2 1515V1656M1201.93 1518V1654M1206.66 1528V1658M1211.39 1536V1661M1216.12 1535V1665M1220.85 1543V1685M1225.58 1551V1680M1230.31 1560V1705M1235.04 1558V1717M1239.77 1565V1685M1244.5 1560V1716M1249.22 1553V1735M1253.95 1545V1692M1258.68 1543V1705M1263.41 1516V1678M1268.14 1508V1646M1272.88 1487V1660M1277.61 1482V1640M1282.34 1467V1621M1287.07 1472V1609M1291.8 1486V1628M1296.53 1471V1613M1301.26 1472V1618M1305.99 1472V1610M1310.72 1476V1589M1315.45 1462V1598M1320.18 1464V1579M1324.91 1455V1599M1329.64 1466V1598M1334.37 1485V1618M1339.1 1503V1612M1343.83 1508V1624M1348.56 1504V1626M1353.28 1501V1608M1358.01 1484V1603M1362.74 1501V1599M1367.47 1503V1607M1372.2 1515V1624M1376.93 1515V1617M1381.66 1508V1623M1386.39 1488V1640M1391.12 1500V1645M1395.86 1526V1642M1400.59 1513V1630M1405.32 1521V1643M1410.05 1524V1636M1414.78 1522V1674M1419.51 1522V1630M1424.24 1521V1629M1428.97 1509V1672M1433.7 1526V1656M1438.43 1520V1641M1443.16 1512V1626M1447.89 1521V1634M1452.62 1517V1662M1457.35 1522V1643M1462.08 1531V1630M1466.81 1530V1647M1471.54 1515V1653M1476.26 1528V1654M1480.99 1514V1638M1485.72 1509V1649M1490.45 1525V1655M1495.18 1504V1639M1499.91 1499V1632M1504.64 1522V1630M1509.38 1513V1619M1514.11 1516V1613M1518.84 1528V1612M1523.57 1518V1636M1528.3 1534V1630M1533.03 1534V1635M1537.76 1540V1639M1542.49 1533V1639M1547.22 1529V1667M1551.95 1532V1629M1556.68 1544V1629M1561.41 1531V1626M1566.14 1531V1646M1570.87 1535V1634M1575.6 1536V1669M1580.33 1539V1647M1585.06 1536V1622M1589.79 1527V1625M1594.51 1521V1623M1599.24 1505V1632M1603.97 1498V1622M1608.7 1508V1640M1613.43 1492V1639M1618.16 1519V1640M1622.89 1511V1703M1627.62 1513V1673M1632.36 1526V1718M1637.09 1512V1650M1641.82 1510V1648M1646.55 1503V1657M1651.28 1492V1625M1656.01 1471V1624M1660.74 1478V1638M1665.47 1491V1615M1670.2 1493V1633M1674.93 1496V1633M1679.66 1497V1633M1684.39 1500V1622M1689.12 1511V1632M1693.85 1518V1639M1698.58 1540V1643M1703.31 1556V1648M1708.04 1555V1661M1712.77 1556V1675M1717.49 1574V1677M1722.22 1576V1677M1726.95 1561V1661M1731.68 1572V1682M1736.41 1571V1679M1741.14 1566V1654M1745.88 1555V1651M1750.61 1555V1673M1755.34 1556V1660M1760.07 1548V1657M1764.8 1552V1643M1769.53 1537V1656M1774.26 1515V1645M1778.99 1540V1676M1783.72 1543V1641M1788.45 1533V1660M1793.18 1550V1645M1797.91 1540V1650M1802.64 1550V1658M1807.37 1561V1660M1812.1 1561V1656M1816.83 1548V1675M1821.56 1548V1675M1826.29 1556V1666M1831.02 1557V1668M1835.74 1536V1678M1840.47 1536V1679M1845.2 1543V1660M1849.93 1542V1693M1854.66 1524V1655M1859.39 1537V1651M1864.12 1540V1640M1868.86 1536V1642M1873.59 1523V1628M1878.32 1526V1646" stroke="#f3d47e" stroke-width="3.7840000000000007" fill="none"/><path d="M293.76 945V1035M298.5 951V1034M303.22 1002V1026M303.22 1036V1059M307.95 1037V1086M312.69 1064V1128M317.41 1097V1158M322.14 1122V1183M326.88 1181V1231M331.6 1255V1284M336.33 1254V1291M341.06 1255V1301M345.79 1244V1290M350.52 1241V1288M355.25 1221V1262M359.99 1208V1264M364.71 1171V1240M369.44 1189V1261M374.17 1190V1251M378.9 1182V1253M383.63 1212V1264M388.37 1238V1265M388.37 1277V1302M393.09 1259V1325M397.82 1276V1333M402.56 1285V1333M407.28 1276V1293M407.28 1304V1329M412.01 1263V1325M416.75 1238V1300M421.48 1263V1321M426.2 1288V1361M430.94 1282V1349M435.66 1268V1359M440.39 1277V1383M445.12 1288V1363M449.86 1331V1401M454.58 1316V1387M459.31 1321V1394M464.04 1344V1365M464.04 1375V1413M468.77 1340V1403M473.5 1319V1378M478.24 1334V1350M478.24 1362V1390M482.97 1331V1395M487.69 1340V1405M492.42 1311V1369M497.15 1320V1373M501.88 1324V1398M506.62 1372V1437M511.35 1361V1434M516.08 1366V1423M520.81 1373V1442M525.53 1346V1426M530.26 1344V1417M535.0 1350V1418M539.73 1353V1413M544.46 1367V1442M549.18 1384V1453M553.91 1376V1438M558.64 1394V1465M563.38 1395V1472M568.11 1353V1423M572.84 1373V1459M577.57 1381V1464M582.3 1376V1467M587.02 1411V1498M591.75 1417V1519M596.49 1399V1476M601.22 1403V1486M605.94 1410V1511M610.67 1418V1519M615.4 1385V1498M620.13 1414V1507M624.87 1398V1491M629.6 1403V1485M634.33 1397V1487M639.06 1382V1459M643.79 1417V1494M648.51 1388V1481M653.25 1409V1485M657.98 1402V1474M662.7 1395V1493M667.43 1447V1534M672.16 1456V1530M676.89 1416V1499M681.62 1417V1509M686.36 1448V1552M691.09 1475V1556M695.82 1454V1555M700.55 1407V1525M705.28 1450V1552M710.0 1447V1532M714.74 1453V1536M719.47 1435V1538M724.19 1414V1500M728.92 1464V1543M733.65 1444V1522M738.38 1433V1504M743.12 1449V1530M747.85 1471V1552M752.58 1448V1520M757.31 1417V1491M762.04 1395V1479M766.77 1369V1463M771.5 1356V1470M776.23 1410V1507M780.96 1423V1509M785.68 1386V1474M790.41 1442V1517M795.14 1397V1481M799.88 1392V1493M804.61 1410V1477M809.34 1410V1493M814.07 1412V1479M818.8 1431V1491M823.52 1430V1498M828.25 1437V1484M832.99 1440V1485M837.72 1439V1484M842.45 1462V1513M847.18 1448V1493M851.9 1461V1501M856.63 1472V1521M861.37 1485V1532M866.1 1443V1518M870.83 1468V1529M875.56 1449V1527M880.29 1464V1540M885.01 1460V1524M889.75 1463V1523M894.48 1440V1509M899.21 1440V1511M903.94 1440V1476M903.94 1492V1517M908.67 1431V1502M913.39 1447V1536M918.12 1465V1556M922.86 1458V1530M927.59 1462V1532M932.32 1505V1592M937.05 1535V1613M941.78 1530V1625M946.5 1545V1644M951.24 1551V1622M955.97 1547V1643M960.7 1550V1615M965.43 1529V1621M970.16 1497V1566M974.88 1512V1604M979.62 1510V1606M984.35 1524V1617M989.08 1560V1628M993.81 1556V1622M998.54 1574V1658M1003.26 1585V1647M1008.0 1565V1637M1012.73 1583V1645M1017.46 1547V1618M1022.19 1540V1602M1026.91 1538V1619M1031.64 1554V1622M1036.38 1555V1621M1041.11 1569V1633M1045.84 1588V1675M1050.57 1612V1682M1055.3 1593V1671M1060.03 1587V1668M1064.76 1579V1669M1069.49 1556V1635M1074.22 1567V1661M1078.95 1564V1638M1083.68 1541V1607M1088.41 1564V1656M1093.14 1575V1641M1097.87 1541V1622M1102.6 1565V1635M1107.33 1587V1667M1112.06 1567V1645M1116.79 1550V1617M1121.52 1527V1618M1126.24 1526V1615M1130.97 1547V1611M1135.7 1531V1625M1140.43 1549V1619M1145.16 1559V1644M1149.89 1588V1667M1154.62 1564V1680M1159.36 1550V1629M1164.09 1530V1639M1168.82 1561V1649M1173.55 1535V1628M1178.28 1549V1625M1183.01 1514V1602M1187.74 1546V1618M1192.47 1561V1627M1197.2 1521V1601M1201.93 1534V1599M1206.66 1569V1649M1211.39 1569V1649M1216.12 1581V1656M1220.85 1563V1659M1225.58 1584V1651M1230.31 1584V1662M1235.04 1562V1644M1239.77 1577V1659M1244.5 1598V1645M1244.5 1660V1676M1249.22 1609V1705M1253.95 1601V1677M1258.68 1552V1661M1263.41 1574V1658M1268.14 1522V1614M1272.88 1535V1618M1277.61 1507V1626M1282.34 1478V1508M1282.34 1518V1588M1287.07 1494V1569M1291.8 1495V1579M1296.53 1507V1594M1301.26 1483V1547M1305.99 1503V1576M1310.72 1514V1572M1315.45 1518V1594M1320.18 1506V1575M1324.91 1489V1560M1329.64 1519V1582M1334.37 1523V1600M1339.1 1526V1597M1343.83 1543V1570M1343.83 1584V1622M1348.56 1533V1602M1353.28 1503V1578M1358.01 1493V1508M1358.01 1524V1570M1362.74 1517V1568M1367.47 1539V1595M1372.2 1533V1594M1376.93 1527V1588M1381.66 1542V1610M1386.39 1503V1584M1391.12 1535V1606M1395.86 1537V1603M1400.59 1523V1602M1405.32 1529V1602M1410.05 1558V1630M1414.78 1533V1603M1419.51 1532V1608M1424.24 1524V1600M1428.97 1521V1582M1433.7 1534V1592M1438.43 1559V1588M1438.43 1599V1625M1443.16 1541V1608M1447.89 1564V1622M1452.62 1570V1648M1457.35 1560V1631M1462.08 1544V1622M1466.81 1537V1586M1466.81 1598V1618M1471.54 1525V1588M1476.26 1539V1630M1480.99 1524V1608M1485.72 1565V1640M1490.45 1551V1653M1495.18 1548V1636M1499.91 1501V1594M1504.64 1541V1602M1509.38 1539V1601M1514.11 1518V1593M1518.84 1539V1590M1523.57 1563V1626M1528.3 1561V1628M1533.03 1545V1619M1537.76 1557V1637M1542.49 1565V1630M1547.22 1580V1641M1551.95 1579V1627M1556.68 1554V1608M1561.41 1545V1587M1566.14 1560V1625M1570.87 1549V1612M1575.6 1575V1637M1580.33 1564V1622M1585.06 1553V1612M1589.79 1538V1605M1594.51 1548V1578M1594.51 1588V1600M1599.24 1507V1586M1603.97 1509V1581M1608.7 1512V1576M1613.43 1507V1591M1618.16 1523V1608M1622.89 1575V1671M1627.62 1555V1631M1632.36 1539V1634M1637.09 1553V1643M1641.82 1515V1615M1646.55 1520V1624M1651.28 1524V1605M1656.01 1484V1585M1660.74 1502V1596M1665.47 1504V1595M1670.2 1517V1610M1674.93 1523V1600M1679.66 1507V1609M1684.39 1544V1615M1689.12 1526V1616M1693.85 1538V1601M1698.58 1556V1637M1703.31 1566V1624M1708.04 1573V1622M1712.77 1567V1631M1717.49 1590V1660M1722.22 1614V1669M1726.95 1603V1659M1731.68 1606V1660M1736.41 1591V1654M1741.14 1568V1616M1745.88 1563V1635M1750.61 1581V1646M1755.34 1576V1625M1760.07 1563V1617M1764.8 1557V1630M1769.53 1540V1615M1774.26 1517V1601M1778.99 1576V1658M1783.72 1554V1631M1788.45 1556V1632M1793.18 1560V1623M1797.91 1560V1600M1797.91 1612V1628M1802.64 1573V1626M1807.37 1580V1648M1812.1 1583V1645M1816.83 1586V1647M1821.56 1556V1634M1826.29 1567V1634M1831.02 1579V1666M1835.74 1548V1634M1840.47 1549V1618M1845.2 1554V1646M1849.93 1580V1671M1854.66 1526V1604M1859.39 1567V1631M1864.12 1569V1636M1868.86 1575V1626M1873.59 1551V1609M1878.32 1563V1630" stroke="#da9a0c" stroke-width="4.930000000000001" fill="none"/></g>
<g id="over" filter="url(#bf)"><path d="M291 822V1164" stroke="#b7c6a8" stroke-width="5.5"/><path d="M293.5 547V755" stroke="#111" stroke-width="4.5"/><path d="M1875.5 1425V1748" stroke="#7fb060" stroke-width="4"/><path d="M1925 196H1998M1925 446H1998" stroke="#f0f0f0" stroke-width="1.5"/></g>
<g id="text" filter="url(#bt)"><text transform="translate(688.3,87.9) scale(1.042,1)" font-size="69">Solvent Accessible Surface</text><text transform="translate(271.5,175.7) scale(1.143,1)" font-size="67" text-anchor="end">210</text><text transform="translate(271.5,441.5) scale(1.143,1)" font-size="67" text-anchor="end">200</text><text transform="translate(271.5,707.2) scale(1.143,1)" font-size="67" text-anchor="end">190</text><text transform="translate(271.5,975.0) scale(1.143,1)" font-size="67" text-anchor="end">180</text><text transform="translate(271.5,1239.7) scale(1.143,1)" font-size="67" text-anchor="end">170</text><text transform="translate(271.5,1509.0) scale(1.143,1)" font-size="67" text-anchor="end">160</text><text transform="translate(271.5,1773.2) scale(1.143,1)" font-size="67" text-anchor="end">150</text><text transform="translate(293.5,1817.7) scale(1.22,1)" font-size="67" text-anchor="middle">0</text><text transform="translate(610.8,1817.7) scale(1.133,1)" font-size="67" text-anchor="middle">20000</text><text transform="translate(925.6,1817.7) scale(1.14,1)" font-size="67" text-anchor="middle">40000</text><text transform="translate(1245.4,1817.7) scale(1.133,1)" font-size="67" text-anchor="middle">60000</text><text transform="translate(1562.4,1817.7) scale(1.128,1)" font-size="67" text-anchor="middle">80000</text><text transform="translate(1882.2,1817.7) scale(1.088,1)" font-size="67" text-anchor="middle">1e+05</text><text transform="translate(939.5,1884.5) scale(1.2145,1)" font-size="62">Time (ps)</text><text transform="translate(119.5,1093) rotate(-90) scale(0.909,1)" font-size="69">Area (nm</text><text transform="translate(74,856.3) rotate(-90)" font-size="57">2</text><text transform="translate(119.5,827.4) rotate(-90) scale(0.909,1)" font-size="69">)</text></g>
</svg>
</body></html>
